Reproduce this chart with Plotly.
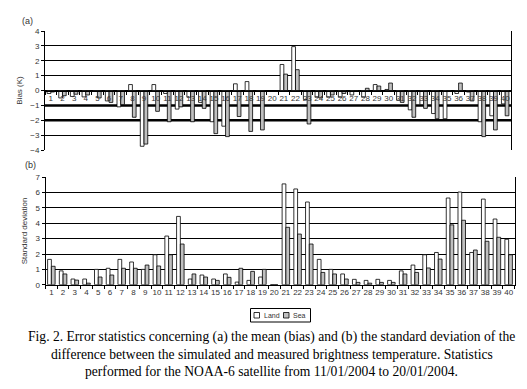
import plotly.graph_objects as go

categories = list(range(1, 41))
tick_labels = [str(c) for c in categories]

bias_land = [-0.2, -0.5, -0.4, -0.43, -0.05, -0.7, -1.1, 0.4, -3.75, 0.4,
             -0.2, -1.25, -0.45, -0.8, -2.1, -2.4, 0.45, 0.6, -0.05, 0.0,
             1.75, 2.95, -0.6, -0.45, -0.45, -0.45, -0.3, -0.45, 0.4, 0.07,
             -0.65, -1.3, -0.95, -1.55, -1.9, -0.2, -0.1, -2.1, -1.7, -0.9]
bias_sea = [-0.1, -0.35, -0.25, -0.3, -0.5, -0.8, -0.95, -1.8, -3.6, -1.4,
            -2.1, -1.1, -2.1, -1.2, -2.9, -3.1, -1.75, -2.75, -2.65, 0.0,
            1.1, 1.4, -2.25, -0.5, -0.3, -0.2, -0.05, 0.15, 0.3, 0.5,
            -0.8, -1.8, -1.2, -1.9, -0.05, 0.5, -0.7, -3.1, -2.65, -1.7]
sd_land = [1.65, 0.9, 0.37, 0.37, 1.0, 1.07, 1.65, 1.48, 1.0, 1.95,
           3.17, 4.45, 0.37, 0.63, 0.37, 0.7, 0.17, 0.28, 0.5, 0.0,
           6.57, 6.24, 5.39, 1.65, 1.0, 0.7, 0.35, 0.28, 0.35, 0.28,
           0.9, 1.28, 1.95, 2.1, 5.65, 6.04, 2.1, 5.58, 4.28, 2.96]
sd_sea = [1.2, 0.7, 0.3, 0.1, 0.5, 0.63, 1.07, 1.07, 1.28, 1.22,
          1.95, 2.65, 0.7, 0.5, 0.28, 0.48, 1.07, 0.87, 1.0, 0.0,
          3.74, 3.3, 2.65, 0.8, 0.7, 0.37, 0.15, 0.1, 0.15, 0.15,
          0.7, 0.8, 1.09, 1.67, 3.9, 4.2, 2.26, 2.83, 3.09, 1.95]

W, H = 527, 389
def px(x):
    return x / W
def py(y):
    return 1 - y / H

top_dom = [py(142), py(23)]
bot_dom = [py(276.7), py(169.3)]
SANS = "Liberation Sans, Arial, sans-serif"
SERIF = "Liberation Serif, Times New Roman, serif"
LAND = "#ffffff"
SEA = "#c0c0c0"

fig = go.Figure()
line = dict(color="black", width=0.8)
fig.add_trace(go.Bar(x=categories, y=bias_land, name="Land", marker=dict(color=LAND, line=line),
                     xaxis="x", yaxis="y", showlegend=False))
fig.add_trace(go.Bar(x=categories, y=bias_sea, name="Sea", marker=dict(color=SEA, line=line),
                     xaxis="x", yaxis="y", showlegend=False))
fig.add_trace(go.Bar(x=categories, y=sd_land, name="Land", marker=dict(color=LAND, line=line),
                     xaxis="x2", yaxis="y2", showlegend=False))
fig.add_trace(go.Bar(x=categories, y=sd_sea, name="Sea", marker=dict(color=SEA, line=line),
                     xaxis="x2", yaxis="y2", showlegend=False))

tickfont = dict(family=SANS, size=8, color="#333333")
xcommon = dict(range=[0.5, 40.5], tickmode="array", tickvals=categories, ticktext=tick_labels,
               ticks="", showgrid=False, zeroline=False, showline=True, linecolor="black",
               linewidth=1, tickfont=tickfont, automargin=False,
               minor=dict(ticks="outside", tick0=0.5, dtick=1, ticklen=3, tickcolor="black",
                          showgrid=False))

zero_pos = top_dom[0] + (top_dom[1] - top_dom[0]) * 0.5

fig.update_layout(
    width=W, height=H,
    margin=dict(l=0, r=0, t=0, b=0, pad=0),
    paper_bgcolor="white", plot_bgcolor="white",
    barmode="group", bargap=0.36, bargroupgap=0.0,
    showlegend=False,
    xaxis=dict(domain=[px(37), px(503)], anchor="free", position=zero_pos, **xcommon),
    yaxis=dict(domain=top_dom, range=[-4, 4], dtick=1, tick0=0, showgrid=True,
               gridcolor="black", gridwidth=1, zeroline=False, showline=True,
               linecolor="black", linewidth=1, mirror=True, ticks="outside", ticklen=3,
               tickcolor="black", tickfont=tickfont, anchor="x", automargin=False,
               title=dict(text="Bias (K)", font=dict(family=SANS, size=8, color="#333333"),
                          standoff=6)),
    xaxis2=dict(domain=[px(37.5), px(506.5)], anchor="y2", **xcommon),
    yaxis2=dict(domain=bot_dom, range=[0, 7], dtick=1, tick0=0, showgrid=True,
                gridcolor="black", gridwidth=1, zeroline=False, showline=True,
                linecolor="black", linewidth=1, mirror=True, ticks="outside", ticklen=3,
                tickcolor="black", tickfont=tickfont, anchor="x2", automargin=False,
                title=dict(text="Standard deviation", font=dict(family=SANS, size=8, color="#333333"),
                           standoff=6)),
)

# thick reference lines at -1 and -2 in the bias panel
for yv in (-1, -2):
    fig.add_shape(type="line", xref="x domain", yref="y", x0=0, x1=1, y0=yv, y1=yv,
                  line=dict(color="black", width=2.5), layer="below")

# panel labels
fig.add_annotation(text="(a)", xref="paper", yref="paper", x=px(12), y=py(13),
                   xanchor="left", yanchor="middle", showarrow=False,
                   font=dict(family=SANS, size=9, color="#333333"))
fig.add_annotation(text="(b)", xref="paper", yref="paper", x=px(15), y=py(157),
                   xanchor="left", yanchor="middle", showarrow=False,
                   font=dict(family=SANS, size=9, color="#333333"))

# custom legend
fig.add_shape(type="rect", xref="paper", yref="paper", x0=px(242.5), x1=px(302.5),
              y0=py(314), y1=py(300.5), line=dict(color="black", width=1), fillcolor="white")
fig.add_shape(type="rect", xref="paper", yref="paper", x0=px(246), x1=px(251.5),
              y0=py(310), y1=py(304.5), line=dict(color="black", width=0.8), fillcolor=LAND)
fig.add_shape(type="rect", xref="paper", yref="paper", x0=px(275.5), x1=px(281),
              y0=py(310), y1=py(304.5), line=dict(color="black", width=0.8), fillcolor=SEA)
fig.add_annotation(text="Land", xref="paper", yref="paper", x=px(253.5), y=py(307.3),
                   xanchor="left", yanchor="middle", showarrow=False,
                   font=dict(family=SANS, size=7, color="#333333"))
fig.add_annotation(text="Sea", xref="paper", yref="paper", x=px(283), y=py(307.3),
                   xanchor="left", yanchor="middle", showarrow=False,
                   font=dict(family=SANS, size=7, color="#333333"))

# caption
caption = [
    "Fig. 2. Error statistics concerning (a) the mean (bias) and (b) the standard deviation of the",
    "difference between the simulated and measured brightness temperature. Statistics",
    "performed for the NOAA-6 satellite from 11/01/2004 to 20/01/2004.",
]
for i, t in enumerate(caption):
    fig.add_annotation(text=t, xref="paper", yref="paper", x=px(263.5), y=py(329 + 17 * i),
                       xanchor="center", yanchor="middle", showarrow=False,
                       font=dict(family=SERIF, size=13.6, color="black"))

fig.write_html("out.html")
